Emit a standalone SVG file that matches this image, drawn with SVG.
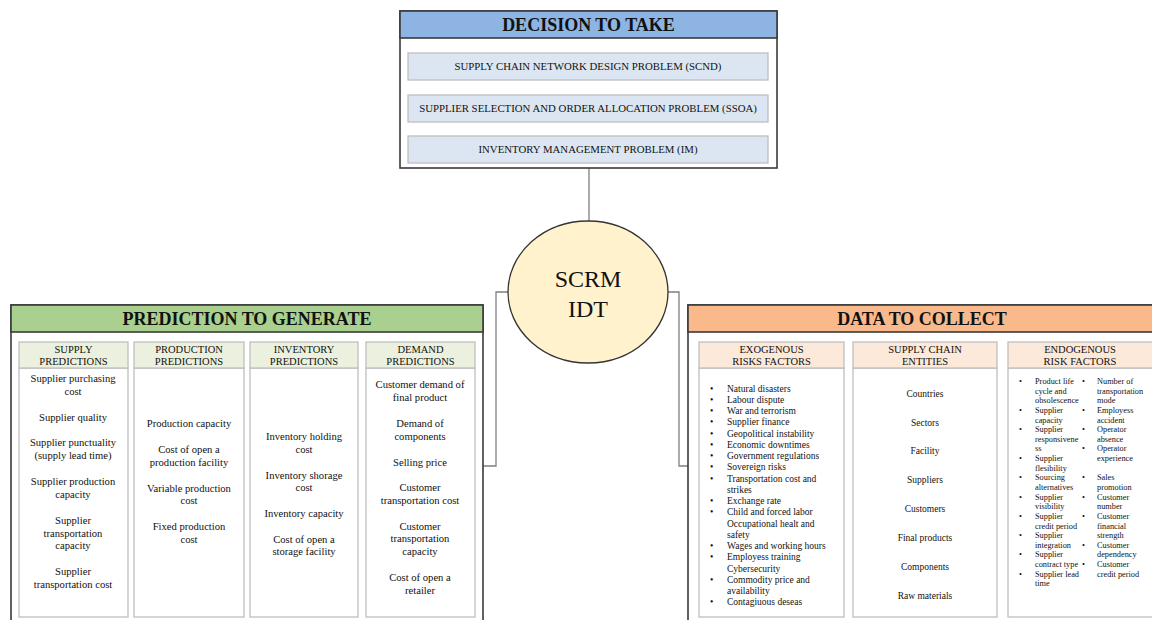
<svg xmlns="http://www.w3.org/2000/svg" width="1152" height="620" viewBox="0 0 1152 620">
<style>
text{font-family:"Liberation Serif","Times New Roman",serif;fill:#111}
.title{font-size:18px;font-weight:bold;text-anchor:middle}
.frame{fill:#fff;stroke:#3a3a3a;stroke-width:1.6}
.band{stroke:#3a3a3a;stroke-width:1.6}
.prob{fill:#dce6f2;stroke:#bfbfbf;stroke-width:1.3}
.prob-t{font-size:10.8px;text-anchor:middle}
.col{fill:#fff;stroke:#bfbfbf;stroke-width:1.3}
.gh{fill:#ebf1de;stroke:#bfbfbf;stroke-width:1.3}
.oh{fill:#fde9d9;stroke:#bfbfbf;stroke-width:1.3}
.sh{font-size:10.5px;text-anchor:middle}
.it{font-size:10.6px;text-anchor:middle}
.ex{font-size:9.5px}
.en{font-size:9.5px;text-anchor:middle}
.eg{font-size:8.3px}
.conn{fill:none;stroke:#7f7f7f;stroke-width:1.3}
</style>

<g id="connectors">
<line class="conn" x1="589" y1="168" x2="589" y2="221"/>
<polyline class="conn" points="508,292 496,292 496,466 483,466"/>
<polyline class="conn" points="668,292 679,292 679,466 688,466"/>
</g>

<g id="decision">
<rect class="frame" x="400" y="11" width="377" height="157"/>
<rect class="band" x="400" y="11" width="377" height="27" fill="#8db4e2"/>
<text class="title" x="588.5" y="31">DECISION TO TAKE</text>
<rect class="prob" x="408" y="53" width="360" height="27"/>
<text class="prob-t" x="588" y="70">SUPPLY CHAIN NETWORK DESIGN PROBLEM (SCND)</text>
<rect class="prob" x="408" y="95" width="360" height="27"/>
<text class="prob-t" x="588" y="112">SUPPLIER SELECTION AND ORDER ALLOCATION PROBLEM (SSOA)</text>
<rect class="prob" x="408" y="136" width="360" height="27"/>
<text class="prob-t" x="588" y="153">INVENTORY MANAGEMENT PROBLEM (IM)</text>
</g>

<g id="scrm-idt">
<ellipse cx="588" cy="292" rx="80" ry="71" fill="#fff2cc" stroke="#333" stroke-width="1.3"/>
<text x="588" y="287" font-size="24" text-anchor="middle">SCRM</text>
<text x="588" y="317" font-size="24" text-anchor="middle">IDT</text>
</g>

<g id="prediction">
<rect class="frame" x="11" y="305" width="472" height="320"/>
<rect class="band" x="11" y="305" width="472" height="27" fill="#a9d08e"/>
<text class="title" x="247" y="325">PREDICTION TO GENERATE</text>

<g id="supply-predictions">
<rect class="col" x="19" y="368" width="109" height="249"/>
<rect class="gh" x="19" y="342" width="109" height="26"/>
<text class="sh" x="73.5" y="353">SUPPLY</text>
<text class="sh" x="73.5" y="365">PREDICTIONS</text>
<text class="it" x="73" y="382">Supplier purchasing</text>
<text class="it" x="73" y="395">cost</text>
<text class="it" x="73" y="421">Supplier quality</text>
<text class="it" x="73" y="446">Supplier punctuality</text>
<text class="it" x="73" y="459">(supply lead time)</text>
<text class="it" x="73" y="485">Supplier production</text>
<text class="it" x="73" y="498">capacity</text>
<text class="it" x="73" y="524">Supplier</text>
<text class="it" x="73" y="537">transportation</text>
<text class="it" x="73" y="549">capacity</text>
<text class="it" x="73" y="575">Supplier</text>
<text class="it" x="73" y="588">transportation cost</text>
</g>

<g id="production-predictions">
<rect class="col" x="134" y="368" width="110" height="249"/>
<rect class="gh" x="134" y="342" width="110" height="26"/>
<text class="sh" x="189" y="353">PRODUCTION</text>
<text class="sh" x="189" y="365">PREDICTIONS</text>
<text class="it" x="189" y="427">Production capacity</text>
<text class="it" x="189" y="453">Cost of open a</text>
<text class="it" x="189" y="466">production facility</text>
<text class="it" x="189" y="492">Variable production</text>
<text class="it" x="189" y="504">cost</text>
<text class="it" x="189" y="530">Fixed production</text>
<text class="it" x="189" y="543">cost</text>
</g>

<g id="inventory-predictions">
<rect class="col" x="250" y="368" width="108" height="249"/>
<rect class="gh" x="250" y="342" width="108" height="26"/>
<text class="sh" x="304" y="353">INVENTORY</text>
<text class="sh" x="304" y="365">PREDICTIONS</text>
<text class="it" x="304" y="440">Inventory holding</text>
<text class="it" x="304" y="453">cost</text>
<text class="it" x="304" y="479">Inventory shorage</text>
<text class="it" x="304" y="491">cost</text>
<text class="it" x="304" y="517">Inventory capacity</text>
<text class="it" x="304" y="543">Cost of open a</text>
<text class="it" x="304" y="555">storage facility</text>
</g>

<g id="demand-predictions">
<rect class="col" x="366" y="368" width="109" height="249"/>
<rect class="gh" x="366" y="342" width="109" height="26"/>
<text class="sh" x="420.5" y="353">DEMAND</text>
<text class="sh" x="420.5" y="365">PREDICTIONS</text>
<text class="it" x="420" y="388">Customer demand of</text>
<text class="it" x="420" y="401">final product</text>
<text class="it" x="420" y="427">Demand of</text>
<text class="it" x="420" y="440">components</text>
<text class="it" x="420" y="466">Selling price</text>
<text class="it" x="420" y="491">Customer</text>
<text class="it" x="420" y="504">transportation cost</text>
<text class="it" x="420" y="530">Customer</text>
<text class="it" x="420" y="542">transportation</text>
<text class="it" x="420" y="555">capacity</text>
<text class="it" x="420" y="581">Cost of open a</text>
<text class="it" x="420" y="594">retailer</text>
</g>
</g>

<g id="data">
<rect class="frame" x="688" y="305" width="470" height="320"/>
<rect class="band" x="688" y="305" width="470" height="27" fill="#fab98b"/>
<text class="title" x="922" y="325">DATA TO COLLECT</text>

<g id="exogenous">
<rect class="col" x="699" y="368" width="145" height="249"/>
<rect class="oh" x="699" y="342" width="145" height="26"/>
<text class="sh" x="771.5" y="353">EXOGENOUS</text>
<text class="sh" x="771.5" y="365">RISKS FACTORS</text>
<g class="ex">
<text x="710" y="391.5">•</text><text x="727" y="391.5">Natural disasters</text>
<text x="710" y="402.7">•</text><text x="727" y="402.7">Labour dispute</text>
<text x="710" y="414">•</text><text x="727" y="414">War and terrorism</text>
<text x="710" y="425.2">•</text><text x="727" y="425.2">Supplier  finance</text>
<text x="710" y="436.5">•</text><text x="727" y="436.5">Geopolitical  instability</text>
<text x="710" y="447.7">•</text><text x="727" y="447.7">Economic  downtimes</text>
<text x="710" y="459">•</text><text x="727" y="459">Government regulations</text>
<text x="710" y="470.2">•</text><text x="727" y="470.2">Sovereign risks</text>
<text x="710" y="481.5">•</text><text x="727" y="481.5">Transportation cost and</text>
<text x="727" y="492.7">strikes</text>
<text x="710" y="504">•</text><text x="727" y="504">Exchange rate</text>
<text x="710" y="515.2">•</text><text x="727" y="515.2">Child  and forced labor</text>
<text x="727" y="526.5">Occupational healt and</text>
<text x="727" y="537.7">safety</text>
<text x="710" y="549">•</text><text x="727" y="549">Wages and working  hours</text>
<text x="710" y="560.2">•</text><text x="727" y="560.2">Employess training</text>
<text x="727" y="571.5">Cybersecurity</text>
<text x="710" y="582.7">•</text><text x="727" y="582.7">Commodity  price and</text>
<text x="727" y="594">availability</text>
<text x="710" y="605.2">•</text><text x="727" y="605.2">Contagiuous  deseas</text>
</g>
</g>

<g id="entities">
<rect class="col" x="853" y="368" width="144" height="249"/>
<rect class="oh" x="853" y="342" width="144" height="26"/>
<text class="sh" x="925" y="353">SUPPLY CHAIN</text>
<text class="sh" x="925" y="365">ENTITIES</text>
<text class="en" x="925" y="397">Countries</text>
<text class="en" x="925" y="426">Sectors</text>
<text class="en" x="925" y="454">Facility</text>
<text class="en" x="925" y="483">Suppliers</text>
<text class="en" x="925" y="512">Customers</text>
<text class="en" x="925" y="541">Final products</text>
<text class="en" x="925" y="570">Components</text>
<text class="en" x="925" y="599">Raw materials</text>
</g>

<g id="endogenous">
<rect class="col" x="1008" y="368" width="150" height="249"/>
<rect class="oh" x="1008" y="342" width="150" height="26"/>
<text class="sh" x="1080" y="353">ENDOGENOUS</text>
<text class="sh" x="1080" y="365">RISK FACTORS</text>
<g class="eg">
<text x="1019" y="384">•</text><text x="1035" y="384">Product life</text>
<text x="1035" y="393.6">cycle and</text>
<text x="1035" y="403.3">obsolescence</text>
<text x="1019" y="412.9">•</text><text x="1035" y="412.9">Supplier</text>
<text x="1035" y="422.5">capacity</text>
<text x="1019" y="432.2">•</text><text x="1035" y="432.2">Supplier</text>
<text x="1035" y="441.8">responsivene</text>
<text x="1035" y="451.4">ss</text>
<text x="1019" y="461">•</text><text x="1035" y="461">Supplier</text>
<text x="1035" y="470.7">flesibility</text>
<text x="1019" y="480.3">•</text><text x="1035" y="480.3">Sourcing</text>
<text x="1035" y="490">alternatives</text>
<text x="1019" y="499.6">•</text><text x="1035" y="499.6">Supplier</text>
<text x="1035" y="509.2">visibility</text>
<text x="1019" y="518.9">•</text><text x="1035" y="518.9">Supplier</text>
<text x="1035" y="528.5">credit period</text>
<text x="1019" y="538.1">•</text><text x="1035" y="538.1">Supplier</text>
<text x="1035" y="547.8">integration</text>
<text x="1019" y="557.4">•</text><text x="1035" y="557.4">Supplier</text>
<text x="1035" y="567">contract type</text>
<text x="1019" y="576.7">•</text><text x="1035" y="576.7">Supplier lead</text>
<text x="1035" y="586.3">time</text>

<text x="1082" y="384">•</text><text x="1097" y="384">Number of</text>
<text x="1097" y="393.6">transportation</text>
<text x="1097" y="403.3">mode</text>
<text x="1082" y="412.9">•</text><text x="1097" y="412.9">Employess</text>
<text x="1097" y="422.5">accident</text>
<text x="1082" y="432.2">•</text><text x="1097" y="432.2">Operator</text>
<text x="1097" y="441.8">absence</text>
<text x="1082" y="451.4">•</text><text x="1097" y="451.4">Operator</text>
<text x="1097" y="461">experience</text>
<text x="1082" y="480.3">•</text><text x="1097" y="480.3">Sales</text>
<text x="1097" y="490">promotion</text>
<text x="1082" y="499.6">•</text><text x="1097" y="499.6">Customer</text>
<text x="1097" y="509.2">number</text>
<text x="1082" y="518.9">•</text><text x="1097" y="518.9">Customer</text>
<text x="1097" y="528.5">financial</text>
<text x="1097" y="538.1">strength</text>
<text x="1082" y="547.8">•</text><text x="1097" y="547.8">Customer</text>
<text x="1097" y="557.4">dependency</text>
<text x="1082" y="567">•</text><text x="1097" y="567">Customer</text>
<text x="1097" y="576.7">credit period</text>
</g>
</g>
</g>
</svg>
